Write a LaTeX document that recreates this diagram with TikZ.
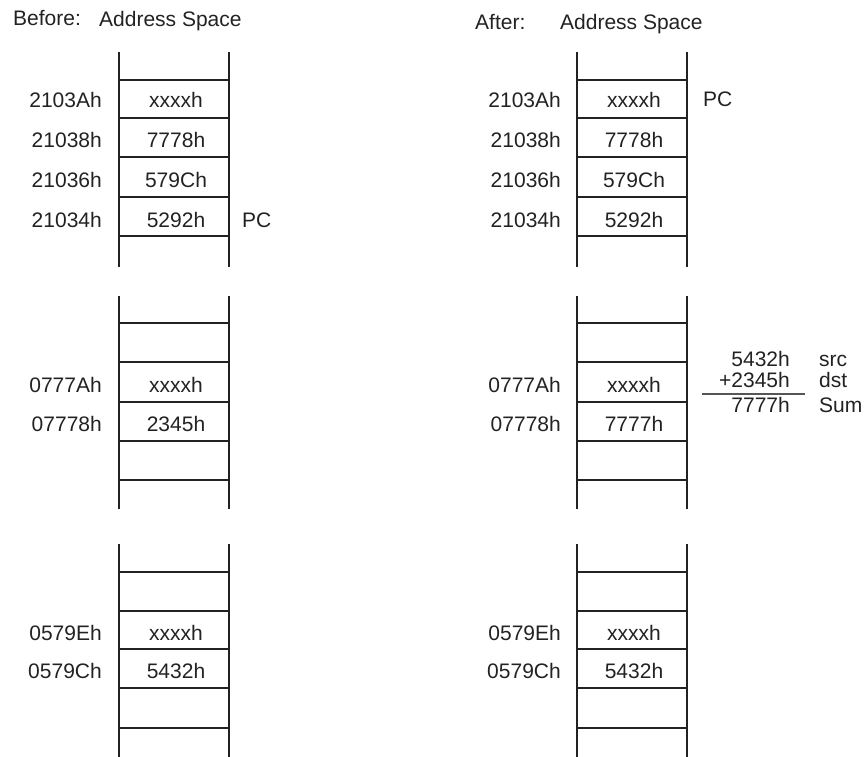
\documentclass[tikz,border=0pt]{standalone}
\usepackage{fontspec}
\setmainfont{Liberation Sans}
\definecolor{ink}{HTML}{222222}
\definecolor{sumline}{HTML}{555555}
\begin{document}
\begin{tikzpicture}[x=1pt,y=-1pt,
  rail/.style={line width=2.8pt,draw=ink},
  rung/.style={line width=2.5pt,draw=ink},
  txt/.style={font=\fontsize{21}{24}\selectfont,text=ink,inner sep=0pt,anchor=base},
  addr/.style={txt,anchor=base east},
  lbl/.style={txt,anchor=base west},
  sumtxt/.style={txt,anchor=base east}]
\useasboundingbox (0,0) rectangle (868,757);

% headers
\node[lbl] (hb)  at (13,26)  {Before:};
\node[lbl] (hbs) at (99,27) {Address Space};
\node[lbl] (ha)  at (475,30) {After:};
\node[lbl] (has) at (560,30) {Address Space};

% ladders
\foreach \xa/\xb in {119/229, 577/687}{
  \foreach \ta/\tb/\rows in {52/267/{80,118,157,197,236},
                             296/509/{323,362,402,441,480},
                             544/757/{572,611,649,688,728}}{
    \draw[rail] (\xa,\ta) -- (\xa,\tb);
    \draw[rail] (\xb,\ta) -- (\xb,\tb);
    \foreach \r in \rows { \draw[rung] (\xa,\r) -- (\xb,\r); }
  }
}

% BEFORE: top block
\node[addr] (b1a) at (102,108) {2103Ah};
\node[addr] (b2a) at (102,148) {21038h};
\node[addr] (b3a) at (102,188) {21036h};
\node[addr] (b4a) at (102,227) {21034h};
\node[txt] (b1v) at (176,108) {xxxxh};
\node[txt] (b2v) at (176,148) {7778h};
\node[txt] (b3v) at (176,188) {579Ch};
\node[txt] (b4v) at (176,227) {5292h};
\node[lbl] (bpc) at (242,227) {PC};

% BEFORE: middle block
\node[addr] (b5a) at (102,392) {0777Ah};
\node[addr] (b6a) at (102,431) {07778h};
\node[txt] (b5v) at (176,392) {xxxxh};
\node[txt] (b6v) at (176,431) {2345h};

% BEFORE: bottom block
\node[addr] (b7a) at (102,640) {0579Eh};
\node[addr] (b8a) at (102,678) {0579Ch};
\node[txt] (b7v) at (176,640) {xxxxh};
\node[txt] (b8v) at (176,678) {5432h};

% AFTER: top block
\node[addr] (a1a) at (561,108) {2103Ah};
\node[addr] (a2a) at (561,148) {21038h};
\node[addr] (a3a) at (561,188) {21036h};
\node[addr] (a4a) at (561,227) {21034h};
\node[txt] (a1v) at (634,108) {xxxxh};
\node[txt] (a2v) at (634,148) {7778h};
\node[txt] (a3v) at (634,188) {579Ch};
\node[txt] (a4v) at (634,227) {5292h};
\node[lbl] (apc) at (703,107) {PC};

% AFTER: middle block
\node[addr] (a5a) at (561,392) {0777Ah};
\node[addr] (a6a) at (561,431) {07778h};
\node[txt] (a5v) at (634,392) {xxxxh};
\node[txt] (a6v) at (634,431) {7777h};

% AFTER: bottom block
\node[addr] (a7a) at (561,640) {0579Eh};
\node[addr] (a8a) at (561,678) {0579Ch};
\node[txt] (a7v) at (634,640) {xxxxh};
\node[txt] (a8v) at (634,678) {5432h};

% addition
\node[sumtxt] (s1) at (790,366) {5432h};
\node[sumtxt] (s2) at (790,387) {+2345h};
\node[sumtxt] (s3) at (790,412) {7777h};
\node[lbl] (s1l) at (819,366) {src};
\node[lbl] (s2l) at (819,387) {dst};
\node[lbl] (s3l) at (819,412) {Sum};
\coordinate (sl) at (702,394);
\coordinate (sr) at (805,394);
\draw[line width=1.4pt,draw=sumline] (sl) -- (sr);
\end{tikzpicture}
\end{document}
